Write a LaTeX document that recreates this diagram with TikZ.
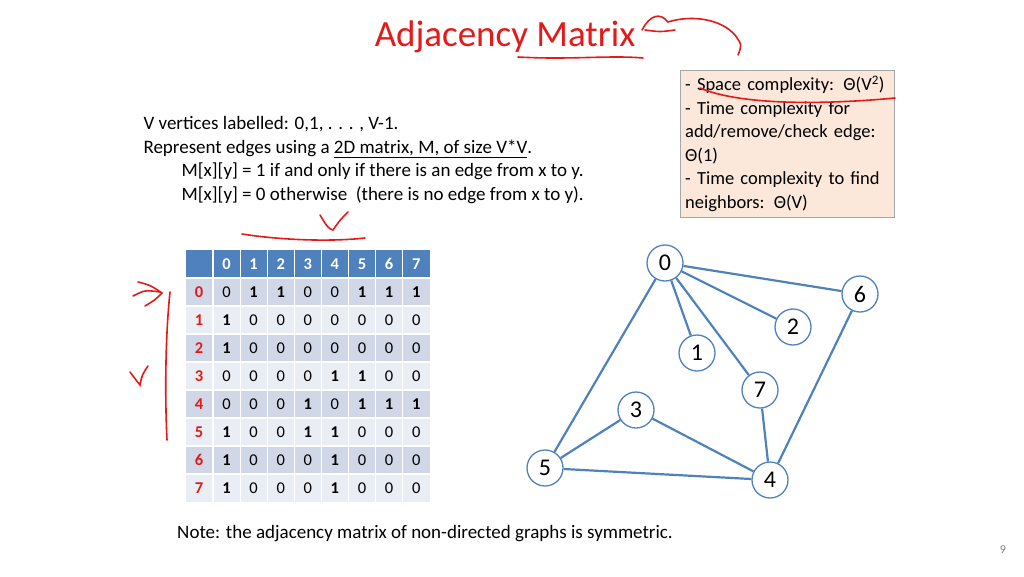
\documentclass[tikz,border=0pt]{standalone}
\usepackage{fontspec}
\setmainfont{Carlito}
\usetikzlibrary{positioning}
\definecolor{hdrblue}{HTML}{4F81BD}
\definecolor{rowdark}{HTML}{D0D8E8}
\definecolor{rowlight}{HTML}{E9EDF4}
\definecolor{edgeblue}{HTML}{4F81BD}
\definecolor{notebg}{HTML}{FBE8DA}
\definecolor{inkred}{HTML}{E41A1A}
\tikzset{
  vertex/.style={circle, draw=edgeblue, line width=1.3pt, fill=white, minimum size=36pt, inner sep=0pt, font=\fontsize{24}{24}\selectfont},
  edge/.style={edgeblue, line width=2.2pt},
  cell/.style={minimum width=26pt, minimum height=27pt, inner sep=0pt, font=\fontsize{16.5}{16.5}\selectfont},
  ink/.style={inkred, line width=1.6pt, line cap=round}
}
\begin{document}
\begin{tikzpicture}[x=1pt, y=-1pt]
  \useasboundingbox (0,0) rectangle (1024,576);
  \node (title) at (505,37) {\fontsize{37}{37}\selectfont\color{inkred}Adjacency Matrix};
  % text block
  \node (desc) [anchor=north west, align=left, font=\fontsize{19}{23.5}\selectfont] at (140,113)
    {V vertices labelled: 0,1, . . . , V-1.\\
     Represent edges using a \underline{2D matrix, M, of size V*V}.\\
     \hspace*{38pt}M[x][y] = 1 if and only if there is an edge from x to y.\\
     \hspace*{38pt}M[x][y] = 0 otherwise\ \ (there is no edge from x to y).};
  % complexity note
  \node (cplx) [anchor=north west, draw=gray!70, fill=notebg, align=left, text width=204pt,
    inner sep=5pt, minimum height=147pt, font=\fontsize{18.5}{23.5}\selectfont] at (680,70)
    {- Space complexity: Θ(V\textsuperscript{2})\\
     - Time complexity for add/remove/check edge: Θ(1)\\
     - Time complexity to find neighbors: Θ(V)};
  % matrix
  \fill[hdrblue] (186,250) rectangle (430,278);
  \foreach \c in {0,...,7}
    \node[cell, text=white, font=\bfseries\fontsize{16.5}{16.5}\selectfont] (h\c) at (226.5+27.1*\c,264) {\c};
  \foreach \r/\vals in {0/{0,1,1,0,0,1,1,1},1/{1,0,0,0,0,0,0,0},2/{1,0,0,0,0,0,0,0},3/{0,0,0,0,1,1,0,0},
                        4/{0,0,0,1,0,1,1,1},5/{1,0,0,1,1,0,0,0},6/{1,0,0,0,1,0,0,0},7/{1,0,0,0,1,0,0,0}} {
    \pgfmathtruncatemacro\odd{mod(\r,2)}
    \ifnum\odd=0 \def\rc{rowdark}\else\def\rc{rowlight}\fi
    \fill[\rc] (186,278+28*\r) rectangle (430,306+28*\r);
    \node[cell, text=inkred, font=\bfseries\fontsize{16.5}{16.5}\selectfont] (r\r) at (199,292+28*\r) {\r};
    \foreach \v [count=\c from 0] in \vals {
      \ifnum\v=1
        \node[cell, font=\bfseries\fontsize{16.5}{16.5}\selectfont] (m\r\c) at (226.5+27.1*\c,292+28*\r) {\v};
      \else
        \node[cell] (m\r\c) at (226.5+27.1*\c,292+28*\r) {\v};
      \fi
    }
  }
  \foreach \x in {213,240.1,...,420} \draw[white, line width=1.2pt] (\x,250) -- (\x,502);
  \foreach \y in {278,306,...,490} \draw[white, line width=1.2pt] (186,\y) -- (430,\y);
  % graph
  \node[vertex] (v0) at (665,263) {0};
  \node[vertex] (v6) at (860,294) {6};
  \node[vertex] (v2) at (793,327) {2};
  \node[vertex] (v1) at (697,353) {1};
  \node[vertex] (v7) at (760,390) {7};
  \node[vertex] (v3) at (636,410) {3};
  \node[vertex] (v5) at (545,468) {5};
  \node[vertex] (v4) at (770,480) {4};
  \foreach \a/\b in {0/1,0/2,0/5,0/6,0/7,3/4,3/5,4/5,4/6,4/7}
    \draw[edge] (v\a) -- (v\b);
  \node (note) [font=\fontsize{19}{19}\selectfont] at (425,534) {Note: the adjacency matrix of non-directed graphs is symmetric.};
  \node (page) [text=gray, font=\fontsize{12}{12}\selectfont] at (1003,550) {9};
  % handwriting
  \draw[ink] (518,57) .. controls (570,60) and (610,55) .. (643,58);
  \draw[ink] (642,30) .. controls (650,15) and (660,12) .. (668,22)
             .. controls (690,15) and (720,18) .. (735,35) .. controls (742,45) .. (738,55);
  \draw[ink] (645,30) .. controls (660,32) .. (675,30);
  \draw[ink] (700,88) .. controls (740,105) and (820,105) .. (895,98);
  \draw[ink] (242,234) .. controls (280,240) and (330,242) .. (365,238);
  \draw[ink] (320,215) .. controls (328,228) .. (333,230) .. controls (340,220) .. (348,212);
  \draw[ink] (170,292) .. controls (165,340) and (165,400) .. (167,440);
  \draw[ink] (133,296) .. controls (145,290) .. (160,292);
  \draw[ink] (138,282) .. controls (150,285) .. (162,293) .. controls (155,300) .. (145,306);
  \draw[ink] (130,372) .. controls (136,380) .. (140,385) .. controls (142,375) .. (148,366);
\end{tikzpicture}
\end{document}
